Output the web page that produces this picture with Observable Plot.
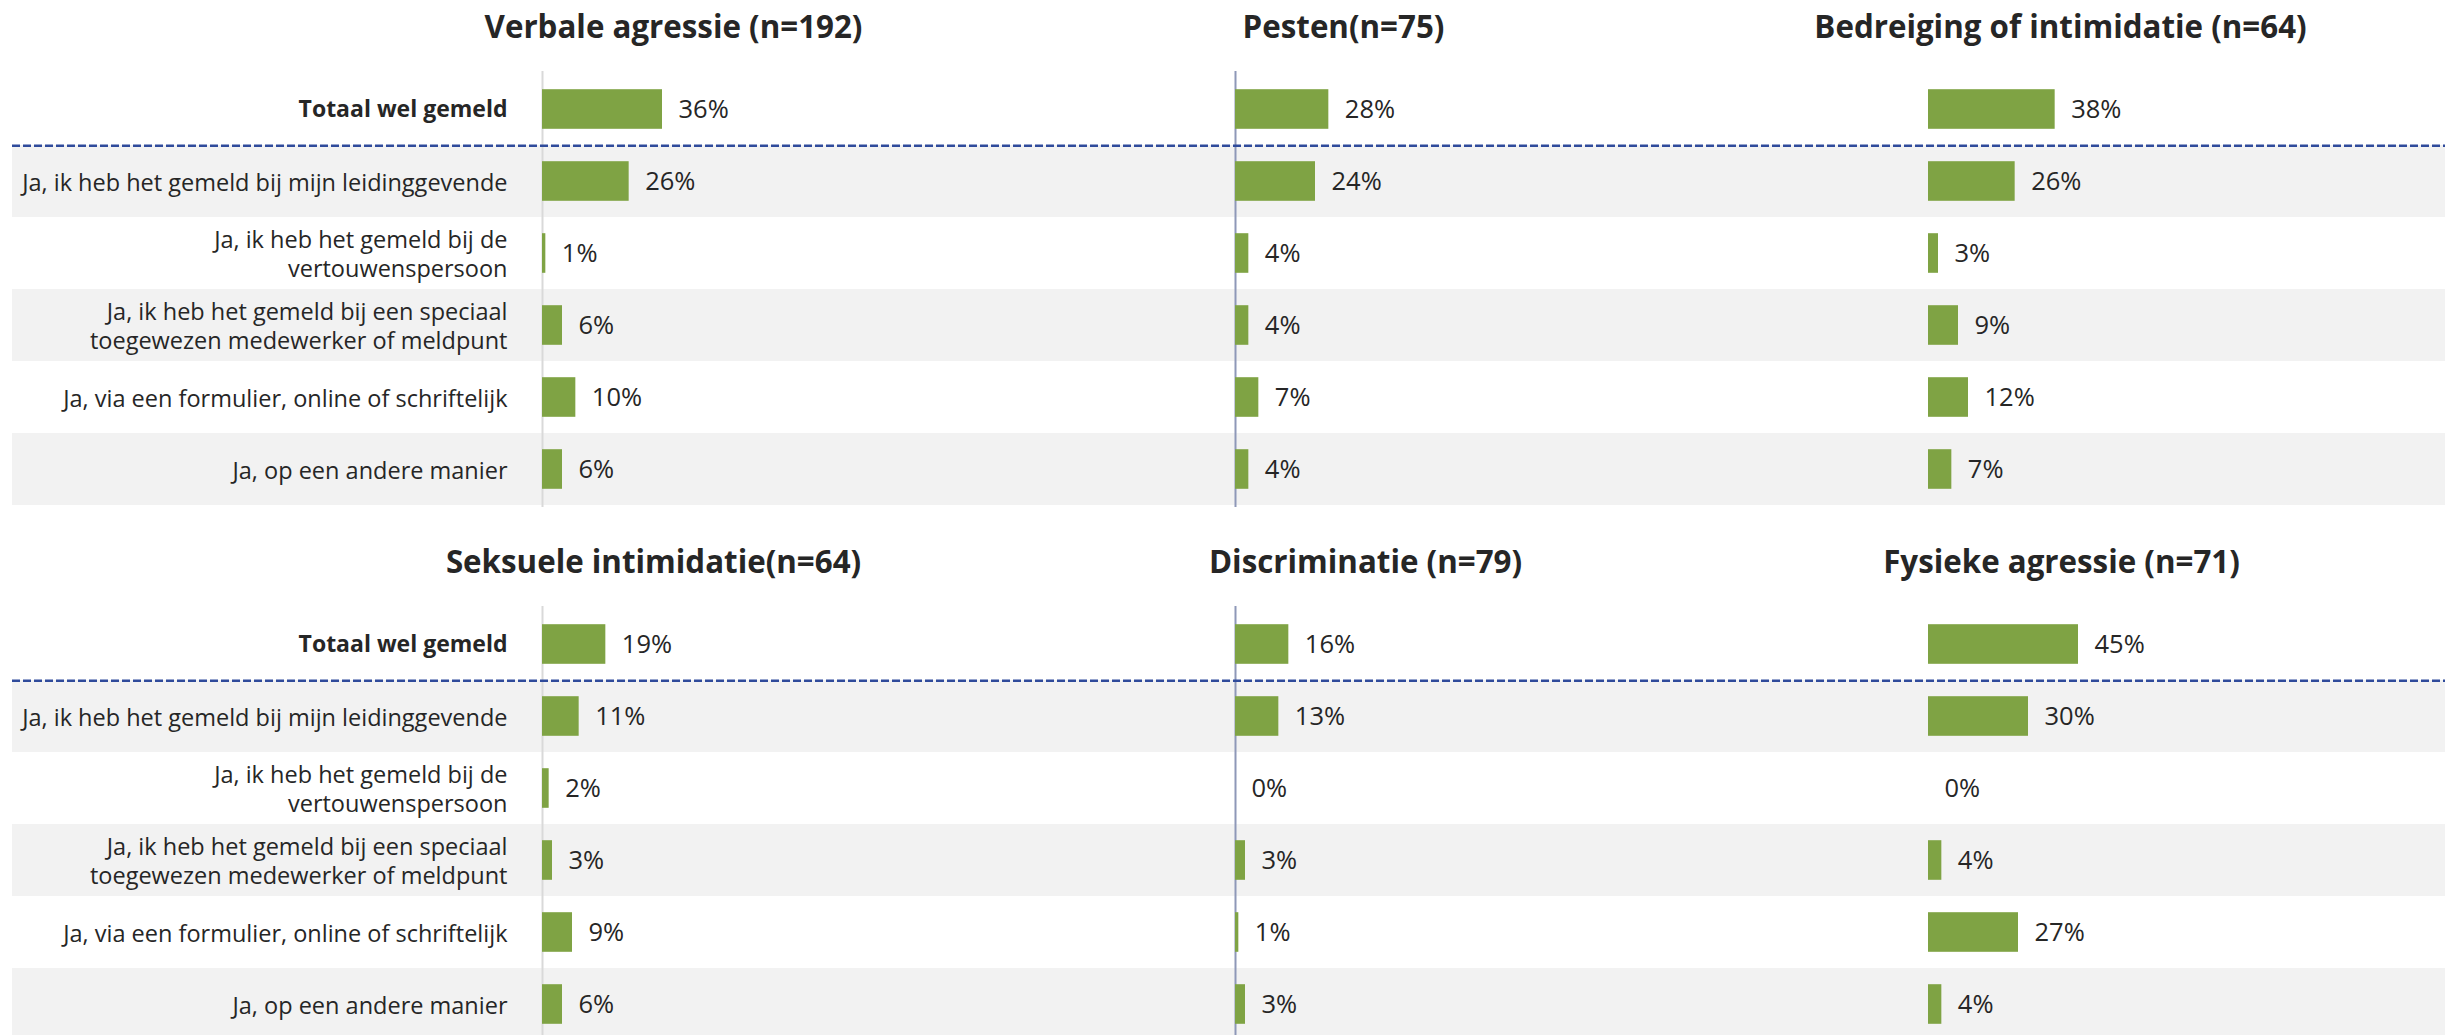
<!DOCTYPE html>
<html>
<head>
<meta charset="utf-8">
<script src="https://cdn.jsdelivr.net/npm/d3@7"></script>
<script src="https://cdn.jsdelivr.net/npm/@observablehq/plot@0.6"></script>
<style>
  html, body { margin: 0; padding: 0; overflow: hidden; background: #ffffff; width: 2445px; height: 1035px; }
  #chart svg { display: block; }
</style>
</head>
<body>
<div id="chart"></div>
<script>
// ---- data ----
const categories = [
  "Totaal wel gemeld",
  "Ja, ik heb het gemeld bij mijn leidinggevende",
  "Ja, ik heb het gemeld bij de\nvertouwenspersoon",
  "Ja, ik heb het gemeld bij een speciaal\ntoegewezen medewerker of meldpunt",
  "Ja, via een formulier, online of schriftelijk",
  "Ja, op een andere manier"
];
const topPanels = ["Verbale agressie (n=192)", "Pesten(n=75)", "Bedreiging of intimidatie (n=64)"];
const bottomPanels = ["Seksuele intimidatie(n=64)", "Discriminatie (n=79)", "Fysieke agressie (n=71)"];

const verbaleAgressie     = [36, 26, 1, 6, 10, 6];
const pesten              = [28, 24, 4, 4, 7, 4];
const bedreiging          = [38, 26, 3, 9, 12, 7];
const seksueleIntimidatie = [19, 11, 2, 3, 9, 6];
const discriminatie       = [16, 13, 0, 3, 1, 3];
const fysiekeAgressie     = [45, 30, 0, 4, 27, 4];

// ---- layout ----
const W = 2445, H = 535, mL = 541, mR = 256, mT = 71, mB = 28, pIn = 0.625, xMax = 78;
const step = (W - mL - mR) / (3 - pIn);
const bw = step * (1 - pIn);
const rowH = (H - mT - mB) / categories.length;
const extendL = -(mL - 11);
const extendR = -(W - mL - bw);
const green = "#7fa344", band = "#f2f2f2", ink = "#262626";

function panelRow(panels, series, titleDx) {
  const rows = [];
  panels.forEach((p, i) => categories.forEach((c, j) => rows.push({panel: p, cat: c, value: series[i][j]})));
  const first = () => panels[0];
  return Plot.plot({
    width: W, height: H,
    marginLeft: mL, marginRight: mR, marginTop: mT, marginBottom: mB,
    style: {fontFamily: "'Open Sans', sans-serif", color: ink, background: "transparent", overflow: "visible"},
    fx: {domain: panels, paddingInner: pIn, paddingOuter: 0, axis: null},
    x: {domain: [0, xMax], axis: null},
    y: {type: "band", domain: categories, padding: 0, axis: null},
    marks: [
      Plot.cell([1, 3, 5].map(k => categories[k]), {fx: first, y: d => d, fill: band, insetLeft: extendL, insetRight: extendR}),
      Plot.ruleX([panels[0]], {fx: d => d, x: () => 0, stroke: "#d9d9d9", strokeWidth: 2}),
      Plot.ruleX([panels[1]], {fx: d => d, x: () => 0, stroke: "#8e98b8", strokeWidth: 2}),
      Plot.ruleY([categories[0]], {fx: first, y: d => d, dy: rowH / 2, insetLeft: extendL, insetRight: extendR,
        stroke: "#2f4b9b", strokeWidth: 2.5, strokeDasharray: "8,3"}),
      Plot.barX(rows.filter(d => d.value > 0), {fx: "panel", y: "cat", x: "value", fill: green, insetTop: 16.2, insetBottom: 16.2}),
      Plot.text(rows, {fx: "panel", y: "cat", x: "value", text: d => `${d.value}%`, textAnchor: "start", dx: 16, fontSize: 25.5, fill: ink}),
      Plot.text([categories[0]], {fx: first, y: d => d, frameAnchor: "left", textAnchor: "end", dx: -35, fontSize: 23, fontWeight: "bold", fill: ink}),
      Plot.text(categories.slice(1), {fx: first, y: d => d, frameAnchor: "left", textAnchor: "end", dx: -35, fontSize: 23.5, lineHeight: 1.22, fill: ink}),
      ...panels.map((p, i) => Plot.text([p], {fx: d => d, text: d => d, frameAnchor: "top", dx: titleDx[i], dy: -34,
        lineAnchor: "bottom", fontSize: 31.3, fontWeight: "bold", fill: ink}))
    ]
  });
}

const chart = document.getElementById("chart");
chart.append(panelRow(topPanels, [verbaleAgressie, pesten, bedreiging], [1, -22, 2]));
chart.append(panelRow(bottomPanels, [seksueleIntimidatie, discriminatie, fysiekeAgressie], [-19, 0, 3]));
</script>
</body>
</html>
